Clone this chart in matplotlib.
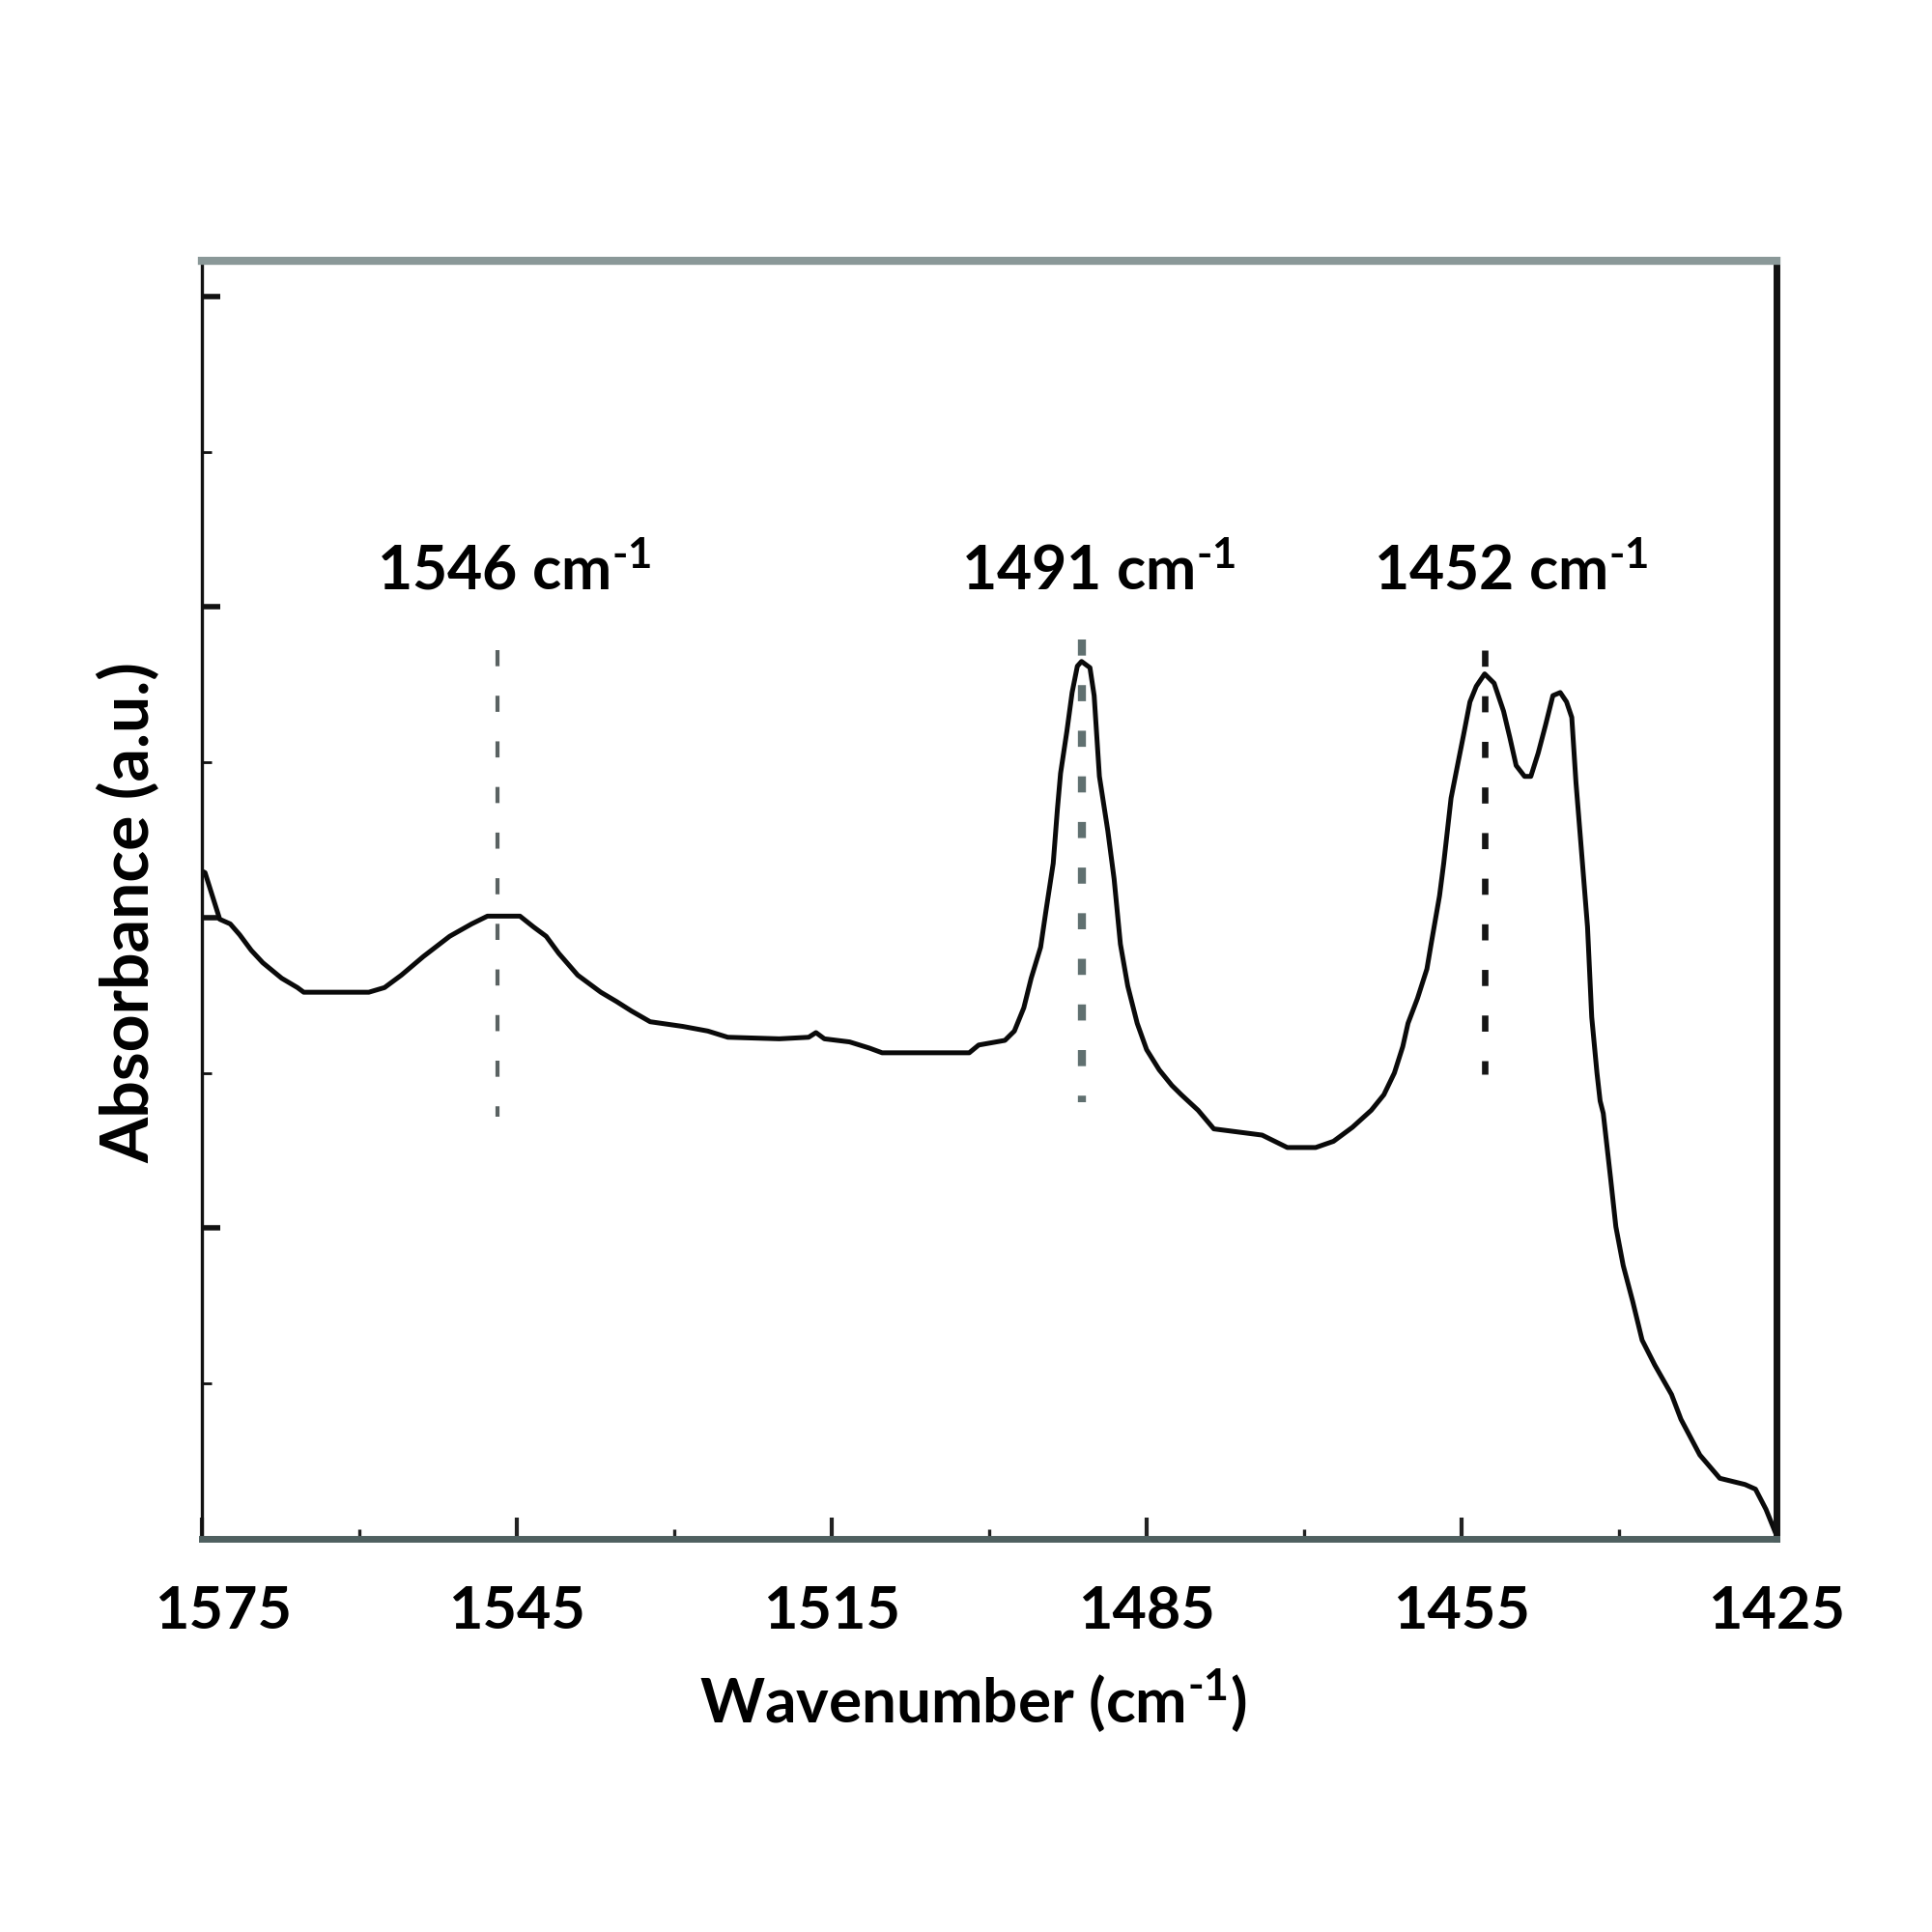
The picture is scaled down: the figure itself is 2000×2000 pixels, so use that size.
import matplotlib
matplotlib.use("Agg")
import matplotlib.pyplot as plt
import matplotlib.transforms as mtransforms
import numpy as np

plt.rcParams['font.family'] = ['Lato', 'DejaVu Sans']
plt.rcParams['font.weight'] = 'bold'
plt.rcParams['mathtext.fontset'] = 'custom'
plt.rcParams['mathtext.rm'] = 'Lato:bold'
plt.rcParams['mathtext.default'] = 'rm'
plt.rcParams['lines.scale_dashes'] = False

# spectrum (wavenumber, absorbance in tick units)
wavenumber = [1575.0, 1574.7, 1573.3, 1572.3, 1571.4, 1570.3, 1569.2, 1567.4, 1565.9, 1565.3,
              1559.1, 1557.6, 1556.0, 1553.9, 1551.4, 1549.3, 1547.8, 1544.7, 1543.4, 1542.2,
              1541.0, 1539.2, 1537.0, 1535.5, 1534.1, 1532.3, 1529.2, 1526.8, 1524.9, 1520.0,
              1517.2, 1516.5, 1515.7, 1513.3, 1511.4, 1510.2, 1501.9, 1501.0, 1498.5, 1497.6,
              1496.7, 1496.0, 1495.1, 1494.6, 1493.9, 1493.5, 1493.2, 1492.6, 1492.1, 1491.6,
              1491.2, 1490.4, 1490.0, 1489.5, 1488.7, 1488.1, 1487.5, 1486.8, 1485.9, 1485.0,
              1483.8, 1482.6, 1481.7, 1480.1, 1478.6, 1474.0, 1472.8, 1471.6, 1468.9, 1467.2,
              1465.4, 1463.6, 1462.4, 1461.4, 1460.6, 1460.1, 1459.2, 1458.3, 1457.9, 1457.1,
              1456.7, 1456.0, 1455.3, 1454.8, 1454.2, 1453.6, 1452.8, 1451.9, 1451.0, 1450.4,
              1449.8, 1449.0, 1448.4, 1447.7, 1447.0, 1446.3, 1445.6, 1445.0, 1444.5, 1444.1,
              1443.6, 1443.0, 1442.6, 1442.1, 1441.8, 1441.5, 1440.8, 1440.3, 1439.6, 1438.7,
              1437.8, 1436.6, 1435.0, 1434.1, 1432.3, 1430.4, 1428.0, 1427.0, 1426.0, 1425.1]
absorbance = [4.30, 4.29, 3.99, 3.96, 3.89, 3.79, 3.71, 3.61, 3.55, 3.52,
              3.52, 3.55, 3.63, 3.75, 3.88, 3.96, 4.01, 4.01, 3.94, 3.88,
              3.77, 3.63, 3.52, 3.46, 3.40, 3.33, 3.30, 3.27, 3.23, 3.22,
              3.23, 3.26, 3.22, 3.20, 3.16, 3.13, 3.13, 3.18, 3.21, 3.27,
              3.42, 3.61, 3.81, 4.04, 4.35, 4.70, 4.93, 5.20, 5.45, 5.62,
              5.65, 5.61, 5.43, 4.91, 4.56, 4.25, 3.83, 3.56, 3.32, 3.15,
              3.02, 2.92, 2.86, 2.76, 2.64, 2.60, 2.56, 2.52, 2.52, 2.56,
              2.65, 2.76, 2.86, 3.00, 3.17, 3.32, 3.48, 3.67, 3.83, 4.14,
              4.35, 4.77, 5.01, 5.18, 5.39, 5.49, 5.57, 5.51, 5.33, 5.16,
              4.98, 4.91, 4.91, 5.06, 5.24, 5.43, 5.45, 5.39, 5.29, 4.87,
              4.45, 3.94, 3.36, 3.00, 2.82, 2.74, 2.32, 2.01, 1.76, 1.53,
              1.28, 1.12, 0.93, 0.77, 0.54, 0.39, 0.35, 0.32, 0.19, 0.04]

# dashed peak markers
peak_pos = [1546.8, 1491.2, 1452.8]
peak_top = [5.72, 5.79, 5.72]
peak_bottom = [2.72, 2.81, 2.99]
peak_labels = [r'1546 cm$^{\text{-}1}$', r'1491 cm$^{\text{-}1}$', r'1452 cm$^{\text{-}1}$']
label_x = [1545.3, 1489.6, 1450.3]
label_y = 6.11
peak_colors = ['#5a6262', '#607070', '#151515']
peak_widths = [1.5, 3.0, 2.4]

xticks = [1575, 1545, 1515, 1485, 1455, 1425]
xminor = [1560, 1530, 1500, 1470, 1440]
ymajor = [0, 2, 4, 6, 8]
yminor = [1, 3, 5, 7]

fig = plt.figure(figsize=(10, 10), dpi=200)
ax = fig.add_axes([0.1045, 0.2035, 0.815, 0.6615])

ax.plot(wavenumber, absorbance, color='#0a0a0a', lw=1.8)

for x, t, b, c, w in zip(peak_pos, peak_top, peak_bottom, peak_colors, peak_widths):
    ax.plot([x, x], [t, b], color=c, lw=w, dashes=(6, 11))

for x, s in zip(label_x, peak_labels):
    ax.text(x, label_y, s, ha='center', va='baseline', fontsize=22.5, fontweight='bold')

ax.set_xlim(1575, 1425)
ax.set_ylim(0, 8.23)
ax.set_xticks(xticks)
ax.set_xticks(xminor, minor=True)
ax.set_yticks(ymajor)
ax.set_yticks(yminor, minor=True)
ax.set_yticklabels([])
ax.set_xticklabels([str(v) for v in xticks], fontsize=22, fontweight='bold')

ax.tick_params(axis='x', which='major', direction='in', length=8, width=1.5, pad=17, color='#222222')
ax.tick_params(axis='x', which='minor', direction='in', length=3.6, width=1.2, color='#222222')
ax.tick_params(axis='y', which='major', direction='in', length=7, width=2.0, color='#111111')
ax.tick_params(axis='y', which='minor', direction='in', length=3.5, width=1.0, color='#111111')

# first label sits a bit right of its tick in the original
first = ax.xaxis.get_major_ticks()[0].label1
first.set_transform(first.get_transform() + mtransforms.ScaledTranslation(8 / 72, 0, fig.dpi_scale_trans))

ax.spines['top'].set_color('#8a9898')
ax.spines['top'].set_linewidth(3)
ax.spines['bottom'].set_color('#4f6060')
ax.spines['bottom'].set_linewidth(2.5)
ax.spines['left'].set_color('#111111')
ax.spines['left'].set_linewidth(1.2)
ax.spines['right'].set_color('#111111')
ax.spines['right'].set_linewidth(2.5)

ax.set_xlabel(r'Wavenumber (cm$^{\text{-}1}$)', fontsize=23, fontweight='bold')
ax.xaxis.set_label_coords(0.49, -0.10)
ax.set_ylabel('Absorbance (a.u.)', fontsize=24.5, fontweight='bold')
ax.yaxis.set_label_coords(-0.026, 0.49)

fig.savefig('out.png', dpi=200, facecolor='white')
